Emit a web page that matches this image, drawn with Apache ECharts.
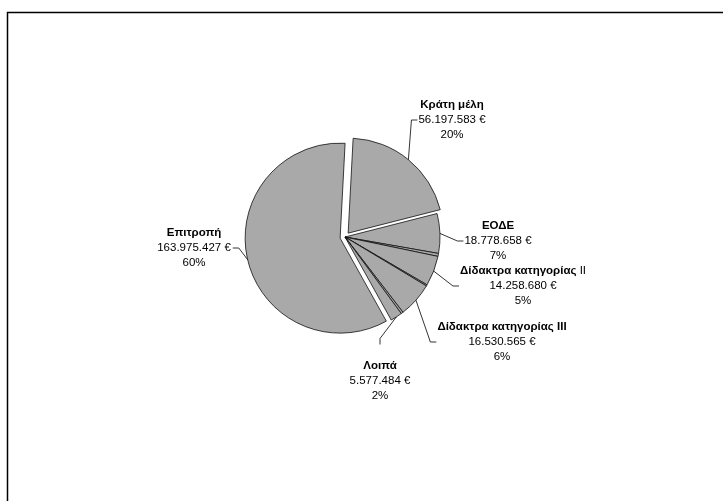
<!DOCTYPE html>
<html><head><meta charset="utf-8">
<script src="https://cdn.jsdelivr.net/npm/echarts@6/dist/echarts.min.js"></script>
<style>html,body{margin:0;padding:0;background:#fff}#c{width:723px;height:501px}</style>
</head><body><div id="c"></div>
<script>
// ---- data ----
const categories = ['Κράτη μέλη', 'ΕΟΔΕ', '', 'Δίδακτρα κατηγορίας II', '', 'Δίδακτρα κατηγορίας III', '', 'Λοιπά', 'Επιτροπή'];
const values     = [56197583, 18778658, 1400000, 14258680, 600000, 16530565, 1000000, 5577484, 163975427];
const labeled    = [true, true, false, true, false, true, false, true, true];
const exploded   = [true, false, false, false, false, false, false, false, true];

// ---- label placement (style only) ----
const labelX    = [452, 498, 0, 523, 0, 502, 0, 380, 194];
const labelY    = [120, 241, 0, 286, 0, 342, 0, 381, 248];
const labelSide = ['left', 'left', '', 'left', '', 'left', '', 'top', 'right'];
const labelGap  = [1, 1, 0, 1, 0, 1, 0, 14, 2];
const stub = 6;
const CENTER = [345, 237], RADIUS = 95, OFFSET = 5, START = 87;

const mainTotal = values.reduce((s, v, i) => s + (labeled[i] ? v : 0), 0);
function fmt(v) { return String(v).replace(/\B(?=(\d{3})+(?!\d))/g, '.') + ' €'; }

const chart = echarts.init(document.getElementById('c'), null, { renderer: 'canvas' });
const FONT = 'Liberation Sans, Arial, sans-serif';

const common = {
  type: 'pie', center: CENTER, radius: RADIUS, startAngle: START, clockwise: true,
  avoidLabelOverlap: false, silent: true, emphasis: { disabled: true }
};

chart.setOption({
  animation: false,
  graphic: [{
    type: 'rect', silent: true,
    shape: { x: 7.5, y: 12.5, width: 1000, height: 1000 },
    style: { fill: 'none', stroke: '#000', lineWidth: 1.5 }
  }],
  series: [
    Object.assign({}, common, {
      selectedMode: 'multiple',
      selectedOffset: OFFSET,
      itemStyle: { color: '#a9a9a9', borderColor: '#111', borderWidth: 0.8 },
      select: { itemStyle: { color: '#a9a9a9', borderColor: '#111', borderWidth: 0.8 } },
      label: { show: false },
      labelLine: { show: false },
      data: categories.map((name, i) => ({ name: name, value: values[i], selected: exploded[i] }))
    }),
    Object.assign({}, common, {
      z: 3,
      itemStyle: { color: 'rgba(0,0,0,0)', borderWidth: 0 },
      label: {
        show: true,
        position: 'outside',
        fontFamily: FONT,
        fontSize: 11.5,
        color: '#000',
        lineHeight: 15,
        formatter: function (p) {
          const pct = Math.round(p.value / mainTotal * 100);
          let nm = p.name.replace(/ II$/, ' }{nr|II}{n|');
          return '{n|' + nm + '}\n{v|' + fmt(p.value) + '}\n{v|' + pct + '%}';
        },
        rich: {
          n: { fontFamily: FONT, fontSize: 11.5, fontWeight: 'bold', lineHeight: 15, color: '#000' },
          nr: { fontFamily: FONT, fontSize: 11.5, fontWeight: 'normal', lineHeight: 15, color: '#000' },
          v: { fontFamily: FONT, fontSize: 11.5, lineHeight: 15, color: '#000' }
        }
      },
      labelLine: { show: true, length: 10, length2: 5, lineStyle: { color: '#000', width: 0.8 } },
      labelLayout: function (p) {
        const i = p.dataIndex;
        if (!labeled[i]) return {};
        const w = p.labelRect.width, h = p.labelRect.height;
        const cx = labelX[i], cy = labelY[i];
        let a, e;
        if (labelSide[i] === 'left') { a = [cx - w / 2 - labelGap[i], cy]; e = [a[0] - stub, cy]; }
        else if (labelSide[i] === 'right') { a = [cx + w / 2 + labelGap[i], cy]; e = [a[0] + stub, cy]; }
        else { a = [cx, cy - h / 2 - labelGap[i]]; e = [cx, a[1] - stub]; }
        const res = { x: cx, y: cy, align: 'center', verticalAlign: 'middle' };
        if (p.labelLinePoints) {
          const r0 = p.labelLinePoints[0].slice();
          if (exploded[i]) {
            const dx = r0[0] - CENTER[0], dy = r0[1] - CENTER[1];
            const d = Math.sqrt(dx * dx + dy * dy) || 1;
            r0[0] += dx / d * OFFSET; r0[1] += dy / d * OFFSET;
          }
          res.labelLinePoints = [r0, e, a];
        }
        return res;
      },
      data: categories.map((name, i) => ({
        name: name, value: values[i],
        label: { show: labeled[i] }, labelLine: { show: labeled[i] }
      }))
    })
  ]
});
</script>
</body></html>
